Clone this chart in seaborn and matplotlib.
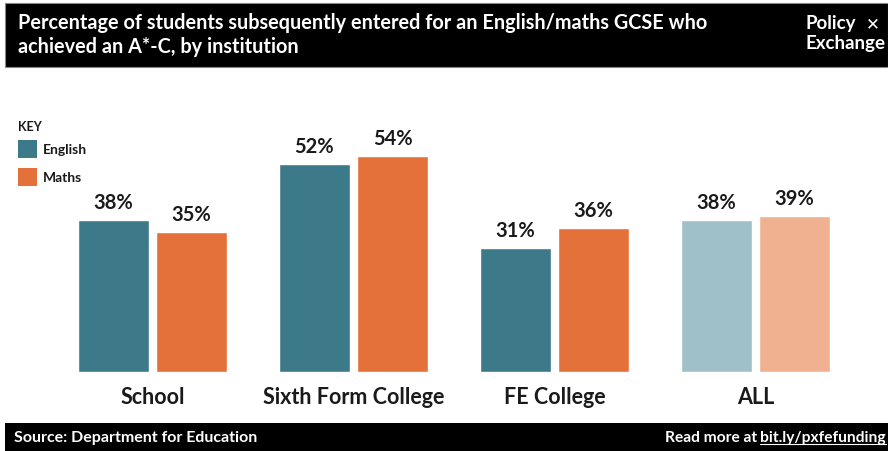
import matplotlib
matplotlib.use("Agg")
import matplotlib.pyplot as plt
from matplotlib.patches import Rectangle
from matplotlib.lines import Line2D
import seaborn as sns
import pandas as pd

categories = ["School", "Sixth Form College", "FE College", "ALL"]
english = [38, 52, 31, 38]
maths = [35, 54, 36, 39]
subjects = ["English", "Maths"]

title = "Percentage of students subsequently entered for an English/maths GCSE who\nachieved an A*-C, by institution"
source = "Source: Department for Education"
link = "bit.ly/pxfefunding"

TEAL = "#3d7a89"
ORANGE = "#e4703a"
TEAL_L = "#9fc0c8"
ORANGE_L = "#f0b190"

df = pd.DataFrame({
    "institution": categories * 2,
    "pct": english + maths,
    "subject": ["English"] * len(categories) + ["Maths"] * len(categories),
})

sns.set_style("white")
plt.rcParams["font.family"] = ["Lato", "DejaVu Sans"]

W, H = 888, 451
fig = plt.figure(figsize=(W / 100, H / 100), dpi=100)
fig.patch.set_facecolor("white")

def fx(px):
    return px / W

def fy(py):
    return 1 - py / H

ax = fig.add_axes([fx(52), fy(372), fx(856) - fx(52), (372 - 132) / H])
sns.barplot(data=df, x="institution", y="pct", hue="subject", order=categories,
            hue_order=subjects, palette=[TEAL, ORANGE], width=0.78, gap=0.1,
            legend=False, ax=ax, saturation=1)
ax.set_ylim(0, 60)
ax.set_xlim(-0.5, 3.5)
for sp in ax.spines.values():
    sp.set_visible(False)
ax.set_yticks([])
ax.set_xlabel("")
ax.set_ylabel("")
ax.tick_params(axis="x", length=0, pad=11)
ax.set_xticks(range(len(categories)))
ax.set_xticklabels(categories, fontsize=15.5, fontweight="bold", color="#1a1a1a")

for cont, vals in zip(ax.containers, [english, maths]):
    ax.bar_label(cont, labels=[f"{v}%" for v in vals], padding=5,
                 fontsize=14.5, fontweight="bold", color="#1a1a1a")

# lighten the ALL bars
for i, cont in enumerate(ax.containers):
    cont.patches[3].set_facecolor(TEAL_L if i == 0 else ORANGE_L)

# header band
fig.add_artist(Rectangle((fx(5), fy(67)), fx(888) - fx(5), (67 - 3) / H,
                         transform=fig.transFigure, facecolor="black", edgecolor="#888888", lw=0.8))
fig.text(fx(18), fy(35), title, color="white", fontsize=14.3, fontweight="bold",
         va="center", ha="left", linespacing=1.3)
fig.text(fx(805), fy(23), "Policy", color="white", fontsize=13.5,
         fontweight="bold", va="center", ha="left")
fig.text(fx(805), fy(43), "Exchange", color="white", fontsize=13.5,
         fontweight="bold", va="center", ha="left")
fig.text(fx(873), fy(24), "✕", color="white", fontsize=12, fontweight="bold",
         va="center", ha="center", family=["DejaVu Sans"])

# footer band
fig.add_artist(Rectangle((fx(5), 0), fx(888) - fx(5), (451 - 423) / H,
                         transform=fig.transFigure, facecolor="black", edgecolor="none"))
fig.text(fx(14), fy(438), source, color="white", fontsize=11.5, fontweight="bold",
         va="center", ha="left")
t_link = fig.text(fx(886), fy(438), link, color="white", fontsize=11.2, fontweight="bold",
                  va="center", ha="right")
fig.canvas.draw()
bb = t_link.get_window_extent()
fig.text(bb.x0 / W, fy(438), "Read more at ", color="white", fontsize=11.2,
         fontweight="bold", va="center", ha="right")
fig.add_artist(Line2D([bb.x0 / W, bb.x1 / W], [(bb.y0 + 1) / H] * 2,
                      transform=fig.transFigure, color="white", lw=0.8))

# key
fig.text(fx(18), fy(127), "KEY", fontsize=9, fontweight="bold", color="#1a1a1a",
         va="center", ha="left")
fig.add_artist(Rectangle((fx(18), fy(158)), fx(19), 18 / H, transform=fig.transFigure,
                         facecolor=TEAL, edgecolor="none"))
fig.add_artist(Rectangle((fx(18), fy(186)), fx(19), 18 / H, transform=fig.transFigure,
                         facecolor=ORANGE, edgecolor="none"))
fig.text(fx(43), fy(150), "English", fontsize=10, fontweight="bold", color="#1a1a1a",
         va="center", ha="left")
fig.text(fx(43), fy(178), "Maths", fontsize=10, fontweight="bold", color="#1a1a1a",
         va="center", ha="left")

fig.savefig("out.png", dpi=100)
